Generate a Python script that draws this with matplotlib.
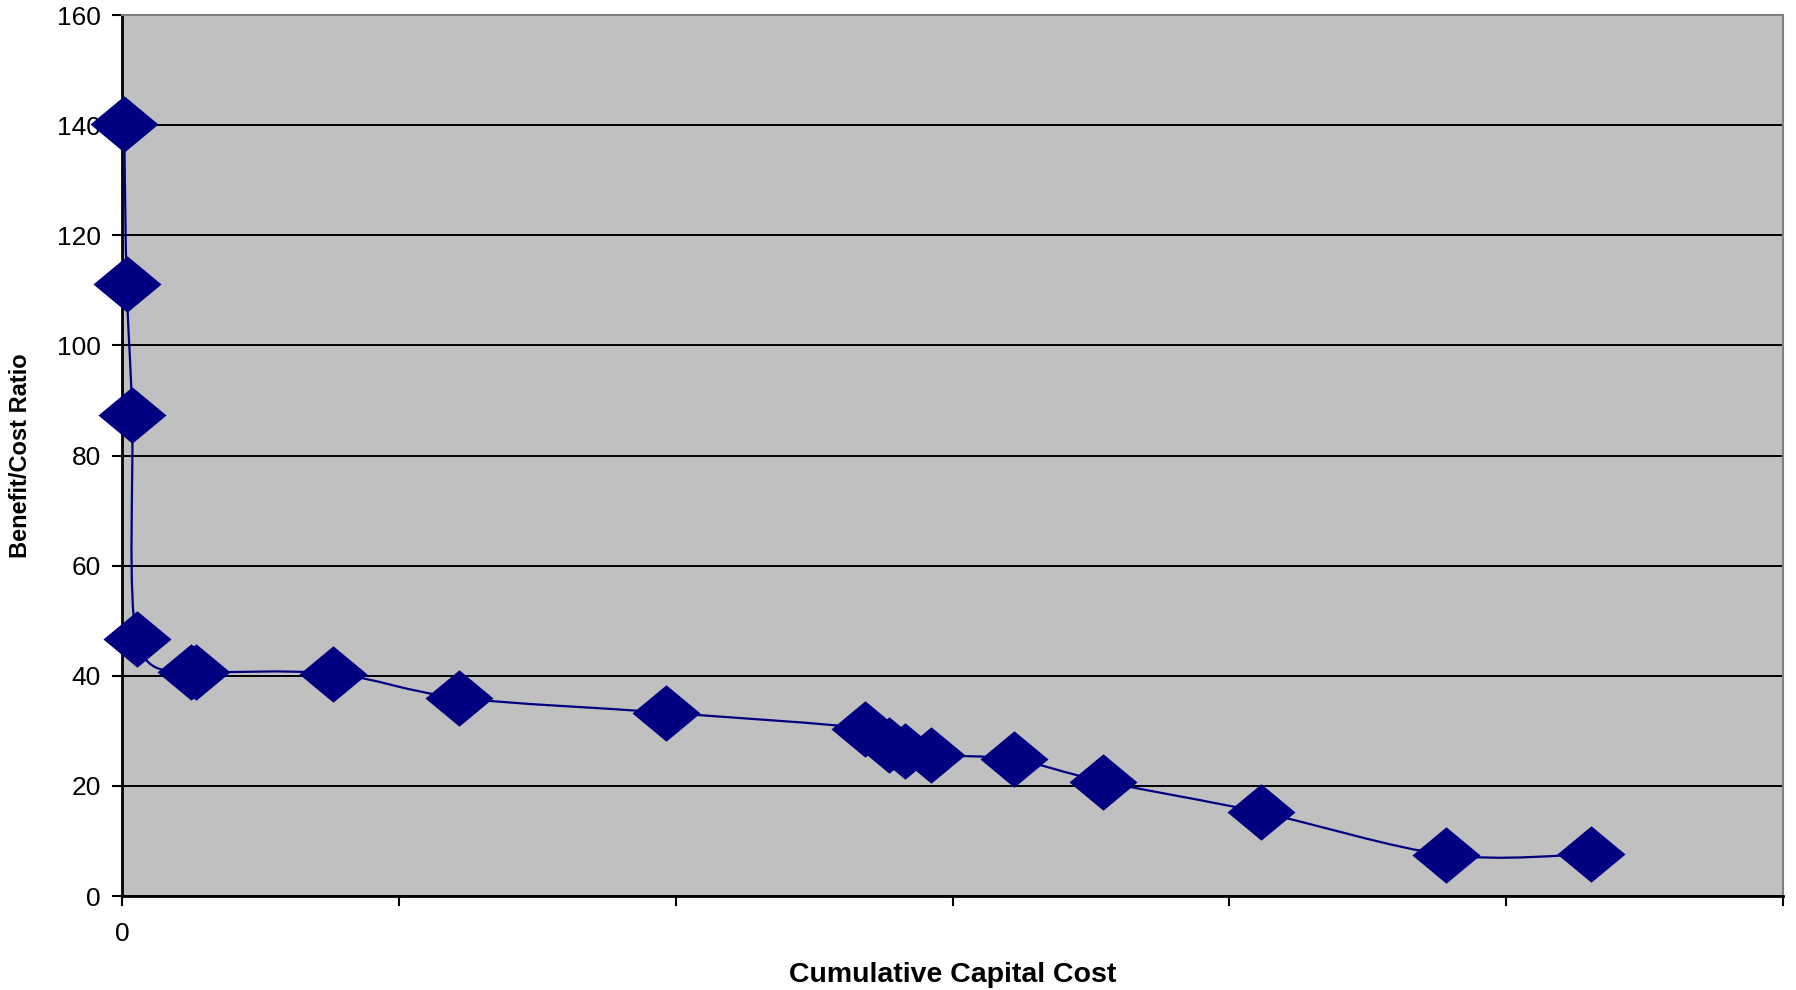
import numpy as np
import matplotlib.pyplot as plt
from matplotlib.path import Path
from matplotlib.patches import PathPatch

plt.rcParams['font.family'] = ['Liberation Sans', 'DejaVu Sans']

# cumulative capital cost (in units of x tick spacing) and benefit/cost ratio
cum_cost = [0.008, 0.017, 0.037, 0.054, 0.248, 0.269, 0.761, 1.216, 1.964,
            2.684, 2.771, 2.829, 2.924, 3.222, 3.544, 4.115, 4.781, 5.306]
bc_ratio = [140.2, 111.1, 87.4, 46.6, 40.6, 40.6, 40.4, 36.0, 33.3,
            30.4, 27.5, 26.4, 25.6, 24.8, 20.8, 15.2, 7.5, 7.6]

y_ticks = [0, 20, 40, 60, 80, 100, 120, 140, 160]
x_ticks = [0, 1, 2, 3, 4, 5, 6]
x_tick_labels = ['0', '', '', '', '', '', '']

navy = '#000080'

fig = plt.figure(figsize=(17.96, 9.9), dpi=100)
ax = fig.add_axes([0.0679, 0.0949, 0.9249, 0.8899])
ax.set_facecolor('#C0C0C0')

# smoothed line, like Excel's smoothed scatter (Catmull-Rom as bezier segments)
pts = np.column_stack([cum_cost, bc_ratio])
n = len(pts)
verts = [pts[0]]
codes = [Path.MOVETO]
for i in range(n - 1):
    p0 = pts[max(i - 1, 0)]
    p1 = pts[i]
    p2 = pts[i + 1]
    p3 = pts[min(i + 2, n - 1)]
    c1 = p1 + (p2 - p0) / 6.0
    c2 = p2 - (p3 - p1) / 6.0
    verts += [c1, c2, p2]
    codes += [Path.CURVE4] * 3
ax.add_patch(PathPatch(Path(verts, codes), facecolor='none', edgecolor=navy,
                       lw=1.6, zorder=3))

diamond = [(-1, 0), (0, 0.83), (1, 0), (0, -0.83), (-1, 0)]
ax.plot(cum_cost, bc_ratio, linestyle='none', marker=diamond, markersize=49,
        color=navy, markeredgewidth=0, clip_on=False, zorder=4)

ax.set_xlim(0, 6)
ax.set_ylim(0, 160)
ax.set_yticks(y_ticks)
ax.set_xticks(x_ticks)
ax.set_xticklabels(x_tick_labels)
ax.yaxis.grid(True, color='black', lw=1.4)
ax.set_axisbelow(True)

ax.tick_params(axis='both', direction='out', length=7, width=1.5,
               labelsize=19, color='black')
ax.tick_params(axis='y', pad=8)
ax.tick_params(axis='x', pad=12)

for side in ['left', 'bottom']:
    ax.spines[side].set_color('black')
    ax.spines[side].set_linewidth(2)
for side in ['top', 'right']:
    ax.spines[side].set_color('#808080')
    ax.spines[side].set_linewidth(1.5)

ax.set_xlabel('Cumulative Capital Cost', fontsize=20.5, fontweight='bold',
              va='center')
ax.xaxis.set_label_coords(0.5, -0.0897)
ax.set_ylabel('Benefit/Cost Ratio', fontsize=17, fontweight='bold',
              va='center')
ax.yaxis.set_label_coords(-0.0608, 0.5)

fig.savefig('out.png', dpi=100)
